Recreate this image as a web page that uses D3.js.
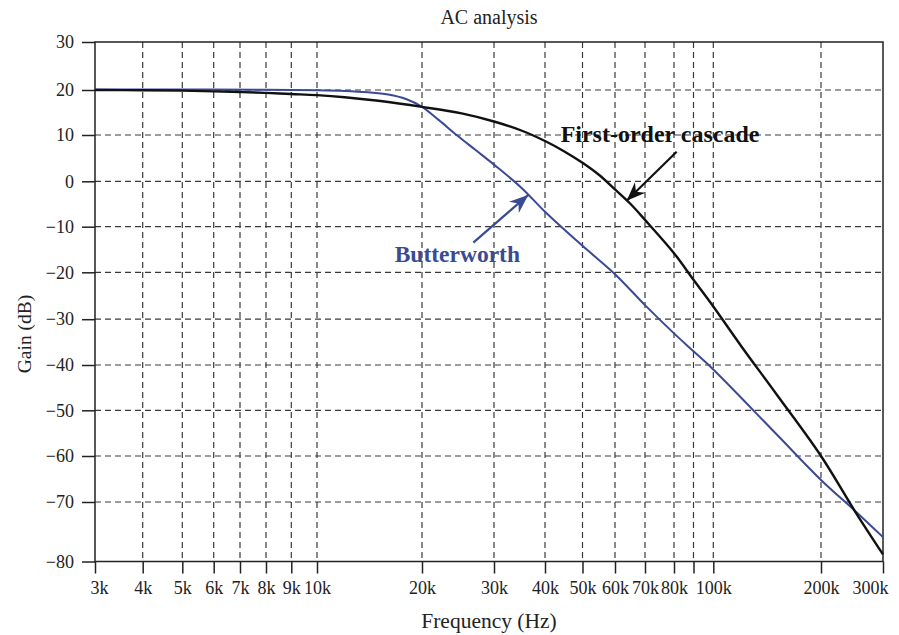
<!DOCTYPE html>
<html>
<head>
<meta charset="utf-8">
<script src="https://cdn.jsdelivr.net/npm/d3@7/dist/d3.min.js"></script>
<style>
  html, body { margin: 0; padding: 0; background: #fff; }
  svg { display: block; }
  text { font-family: "Liberation Serif", "Times New Roman", serif; }
</style>
</head>
<body>
<div id="chart"></div>
<script>
// ---------- data ----------
const freqTicks = [3000,4000,5000,6000,7000,8000,9000,10000,20000,30000,40000,50000,60000,70000,80000,90000,100000,200000,300000];
const freqTickLabels = ["3k","4k","5k","6k","7k","8k","9k","10k","20k","30k","40k","50k","60k","70k","80k","","100k","200k","300k"];
const gainTicks = [30,20,10,0,-10,-20,-30,-40,-50,-60,-70,-80];
const gainTickLabels = ["30","20","10","0","\u221210","\u221220","\u221230","\u221240","\u221250","\u221260","\u221270","\u221280"];

const cascadeFreq = [3000,4000,5000,6000,7000,8000,9000,10000,12000,15000,20000,25000,30000,35000,40000,45000,50000,55000,60000,65000,70000,80000,90000,100000,120000,150000,200000,250000,300000];
const cascadeGain = [20.0,19.95,19.85,19.7,19.55,19.35,19.1,18.85,18.4,17.6,16.25,14.8,13.0,11.0,8.7,6.4,4.0,1.3,-1.8,-5.0,-8.5,-15.8,-21.6,-27.3,-36.0,-46.4,-60.0,-71.6,-78.8];

const butterFreq = [3000,5000,8000,10000,12000,14000,16000,18000,20000,22000,24300,27000,30000,35000,40000,50000,60000,70000,80000,90000,100000,150000,200000,250000,300000];
const butterGain = [20.1,20.1,20.05,19.95,19.8,19.5,19.0,18.0,16.25,13.3,10.0,6.8,3.6,-1.4,-6.7,-14.2,-20.4,-27.0,-33.1,-37.0,-41.0,-55.2,-65.2,-71.5,-75.9];

// annotations in data space [freq, dB]
const cascadeLabel = {text: "First-order cascade", at: [43900, 8.5], tail: [81300, 6.4], tip: [63700, -4.3]};
const butterLabel  = {text: "Butterworth", at: [16700, -17.7], tail: [26700, -13.5], tip: [36400, -3.0]};

// ---------- layout ----------
const W = 899, H = 635;
const blue = "#3a4a93";
// reference axis is slightly non-uniform: piecewise log scale through the tick positions
const xRange = [95,142.7,182.3,213.7,240,266,291.3,317,422,494,545,582.5,615,645,674,693.5,713.3,821,883];
const yRange = [42,90,135,181.3,226.7,272.3,319.2,365,410.3,456,502,561.5];

const x = d3.scaleLog().domain(freqTicks).range(xRange);
const y = d3.scaleLinear().domain(gainTicks).range(yRange);

const svg = d3.select("#chart").append("svg").attr("width", W).attr("height", H);

const pL = x(3000), pR = x(300000), pT = y(30), pB = y(-80);

// grid
const grid = svg.append("g").attr("stroke", "#3a3a3a").attr("stroke-width", 1.2).attr("stroke-dasharray", "6,4");
grid.selectAll("line.v").data(freqTicks.slice(1, -1)).enter().append("line")
  .attr("x1", d => x(d)).attr("x2", d => x(d)).attr("y1", pT).attr("y2", pB);
grid.selectAll("line.h").data(gainTicks.slice(1, -1)).enter().append("line")
  .attr("x1", pL).attr("x2", pR).attr("y1", d => y(d)).attr("y2", d => y(d));

// axes
const xAxis = d3.axisBottom(x).tickValues(freqTicks).tickFormat((d, i) => freqTickLabels[i]).tickSize(12).tickPadding(8);
const gx = svg.append("g").attr("transform", `translate(0,${pB})`).call(xAxis);
gx.select(".domain").remove();
gx.selectAll("line").attr("stroke", "#222").attr("stroke-width", 1.5);
gx.selectAll("text").attr("font-size", 18).attr("fill", "#222").attr("font-family", "Liberation Serif");
// edge labels sit slightly inward, as in the reference
gx.selectAll(".tick").filter(d => d === 300000).select("text").attr("text-anchor", "end").attr("dx", 5);
gx.selectAll(".tick").filter(d => d === 3000).select("text").attr("dx", 4);

const yAxis = d3.axisLeft(y).tickValues(gainTicks).tickFormat((d, i) => gainTickLabels[i]).tickSize(13).tickPadding(8);
const gy = svg.append("g").attr("transform", `translate(${pL},0)`).call(yAxis);
gy.select(".domain").remove();
gy.selectAll("line").attr("stroke", "#222").attr("stroke-width", 1.5);
gy.selectAll("text").attr("font-size", 18).attr("fill", "#222").attr("font-family", "Liberation Serif");

// frame
svg.append("rect").attr("x", pL).attr("y", pT).attr("width", pR - pL).attr("height", pB - pT)
  .attr("fill", "none").attr("stroke", "#222").attr("stroke-width", 1.5);

// curves
const line = d3.line().x(d => x(d[0])).y(d => y(d[1])).curve(d3.curveCatmullRom.alpha(0.5));
svg.append("path").datum(butterFreq.map((f, i) => [f, butterGain[i]]))
  .attr("d", line).attr("fill", "none").attr("stroke", blue).attr("stroke-width", 2);
svg.append("path").datum(cascadeFreq.map((f, i) => [f, cascadeGain[i]]))
  .attr("d", line).attr("fill", "none").attr("stroke", "#111").attr("stroke-width", 2.4);

// arrow markers
const defs = svg.append("defs");
function marker(id, color) {
  defs.append("marker").attr("id", id).attr("viewBox", "-19 -9 21 18")
    .attr("refX", 0).attr("refY", 0).attr("markerWidth", 21).attr("markerHeight", 18)
    .attr("markerUnits", "userSpaceOnUse").attr("orient", "auto")
    .append("path").attr("d", "M0,0 L-19,-7.5 L-13,0 L-19,7.5 Z").attr("fill", color);
}
marker("ahBlack", "#111");
marker("ahBlue", blue);

function annotate(a, color, mid, size) {
  svg.append("line")
    .attr("x1", x(a.tail[0])).attr("y1", y(a.tail[1]))
    .attr("x2", x(a.tip[0])).attr("y2", y(a.tip[1]))
    .attr("stroke", color).attr("stroke-width", 2.2).attr("marker-end", `url(#${mid})`);
  svg.append("text").attr("x", x(a.at[0])).attr("y", y(a.at[1]))
    .attr("font-size", size).attr("font-weight", "bold").attr("fill", color).text(a.text);
}
annotate(cascadeLabel, "#111", "ahBlack", 24);
annotate(butterLabel, blue, "ahBlue", 23.5);

// titles
svg.append("text").attr("x", (pL + pR) / 2).attr("y", 24).attr("text-anchor", "middle")
  .attr("font-size", 20).attr("fill", "#222").text("AC analysis");
svg.append("text").attr("x", (pL + pR) / 2).attr("y", 628).attr("text-anchor", "middle")
  .attr("font-size", 21.5).attr("fill", "#222").text("Frequency (Hz)");
svg.append("text").attr("transform", "translate(31,334) rotate(-90)").attr("text-anchor", "middle")
  .attr("font-size", 19.5).attr("fill", "#222").text("Gain (dB)");
</script>
</body>
</html>
